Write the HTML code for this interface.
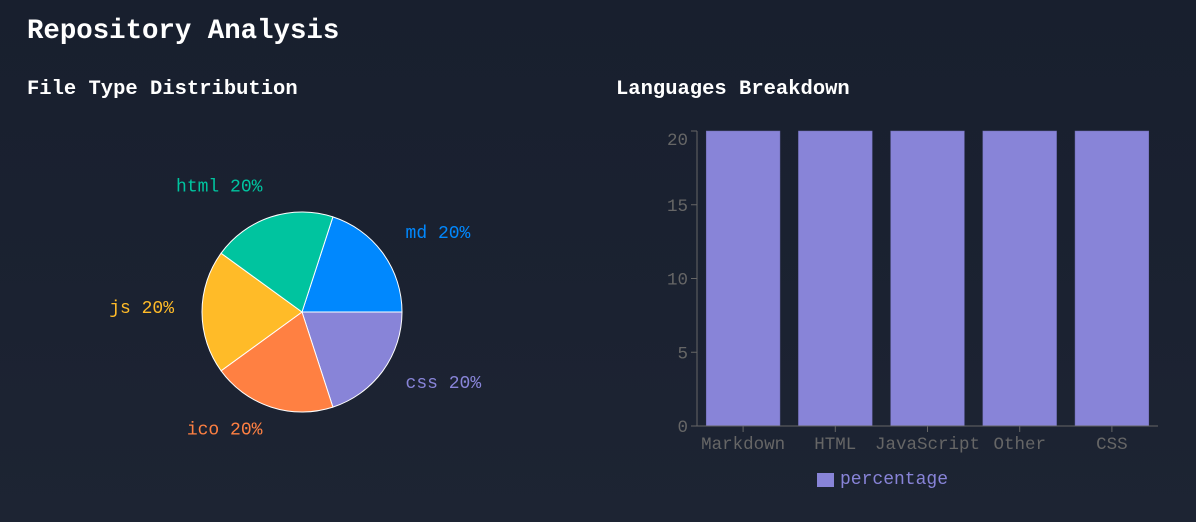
<!DOCTYPE html>
<html><head><meta charset="utf-8"><style>
html,body{margin:0;padding:0;}
body{width:1196px;height:522px;overflow:hidden;background:linear-gradient(180deg,#181f2e 0%,#1d2433 100%);font-family:"Liberation Mono","DejaVu Sans Mono",monospace;color:#fff;position:relative;}
.t{position:absolute;font-weight:bold;white-space:nowrap;}
svg{position:absolute;left:0;top:0;}
</style></head><body>
<div class="t" style="left:27px;top:16px;font-size:27.4px;">Repository Analysis</div>
<div class="t" style="left:27px;top:78px;font-size:20.5px;">File Type Distribution</div>
<div class="t" style="left:616px;top:78px;font-size:20.5px;">Languages Breakdown</div>
<svg id="c" width="1196" height="522" font-family="Liberation Mono, DejaVu Sans Mono, monospace"></svg>
<script>
const pieLabels=["md","css","ico","js","html"];
const pieValues=[20,20,20,20,20];
const pieColors=["#0088FE","#8884d8","#FF8042","#FFBB28","#00C49F"];
const barCats=["Markdown","HTML","JavaScript","Other","CSS"];
const barValues=[20,20,20,20,20];
const yTicks=[0,5,10,15,20];
const NS="http://www.w3.org/2000/svg";
const svg=document.getElementById('c');
function mk(t,a,p){const e=document.createElementNS(NS,t);for(const k in a)e.setAttribute(k,a[k]);(p||svg).appendChild(e);return e;}
// pie
const cx=302,cy=312,R=100,LR=128;
const tot=pieValues.reduce((a,b)=>a+b,0);
let ang=18;
pieValues.forEach((v,i)=>{
  const sw=v/tot*360,a0=ang,a1=ang+sw;ang=a1;
  const p=a=>[cx+R*Math.sin(a*Math.PI/180),cy-R*Math.cos(a*Math.PI/180)];
  const [x0,y0]=p(a0),[x1,y1]=p(a1);
  const s=mk('path',{d:`M${cx},${cy}L${x0},${y0}A${R},${R} 0 ${sw>180?1:0} 1 ${x1},${y1}Z`,fill:pieColors[i],stroke:'#fff','stroke-width':1});
  
  
  const m=(a0+a1)/2,r=m*Math.PI/180;
  const lx=cx+LR*Math.sin(r),ly=cy-LR*Math.cos(r);
  const t=mk('text',{x:lx,y:ly-3,fill:pieColors[i],'font-size':18,'dominant-baseline':'central','text-anchor':lx>cx?'start':'end'});
  t.textContent=pieLabels[i]+' '+Math.round(v/tot*100)+'%';
  
  
});
// bar
const X0=697,X1=1158,Y0=426,Y1=131,ymax=20;
const band=(X1-X0)/barCats.length;
const ys=v=>Y0-(v/ymax)*(Y0-Y1);
const ax='#666';
barCats.forEach((c,i)=>{
  const bx=X0+band*i+band*0.1;
  const b=mk('rect',{x:bx,y:ys(barValues[i]),width:band*0.8,height:Y0-ys(barValues[i]),fill:'#8884d8',stroke:'#6e6bb0','stroke-width':0.5});
  
  
  const cxb=X0+band*(i+0.5);
  mk('line',{x1:cxb,x2:cxb,y1:Y0,y2:Y0+6,stroke:ax});
  const t=mk('text',{x:cxb,y:Y0+23,fill:ax,'font-size':17.5,'text-anchor':'middle'});
  t.textContent=c;
  
  
});
yTicks.forEach(v=>{
  const y=ys(v);
  mk('line',{x1:X0-6,x2:X0,y1:y,y2:y,stroke:ax});
  const ty=(y-8<Y1)?Y1+8:y;
  const t=mk('text',{x:X0-9,y:ty+6,fill:ax,'font-size':17.5,'text-anchor':'end'});
  t.textContent=v;
  
  
});
mk('line',{x1:X0,x2:X0,y1:Y1,y2:Y0,stroke:ax});
mk('line',{x1:X0,x2:X1,y1:Y0,y2:Y0,stroke:ax});
const lg=mk('rect',{x:817,y:473,width:17,height:14,fill:'#8884d8'});


const lt=mk('text',{x:840,y:484,fill:'#8884d8','font-size':18});
lt.textContent='percentage';


</script>
</body></html>
